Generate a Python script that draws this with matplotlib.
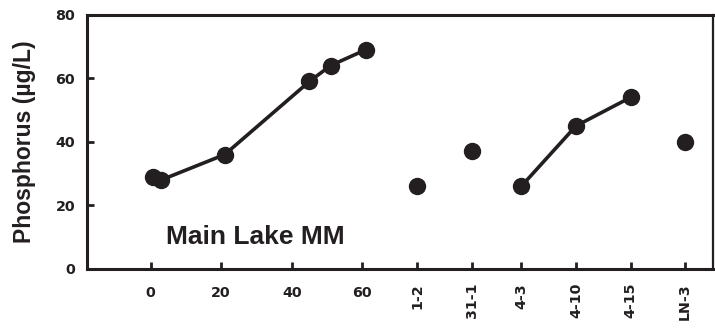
import matplotlib
matplotlib.use("Agg")
import matplotlib.pyplot as plt

plt.rcParams['font.family'] = ['Liberation Sans', 'DejaVu Sans']

# Main lake series (numeric x)
main_x = [0.75, 3, 21, 45, 51, 61]
main_y = [29, 28, 36, 59, 64, 69]
num_ticks = [0, 20, 40, 60]
y_ticks = [0, 20, 40, 60, 80]

# Site categories
site_labels = ['1-2', '31-1', '4-3', '4-10', '4-15', 'LN-3']
site_y = [26, 37, 26, 45, 54, 40]
site_pos = [75.5, 91.0, 105.0, 120.5, 136.0, 151.4]
connected = ['4-3', '4-10', '4-15']

color = '#231f20'
tick_font = 'DejaVu Sans'

fig = plt.figure(figsize=(7.15, 3.28), dpi=100)
ax = fig.add_axes([0.1217, 0.1799, 0.9976 - 0.1217, 0.9552 - 0.1799])

ax.plot(main_x, main_y, color=color, lw=2.6, marker='o', ms=11.5, zorder=3)

idx = [site_labels.index(c) for c in connected]
ax.plot([site_pos[i] for i in idx], [site_y[i] for i in idx], color=color, lw=2.6, zorder=2)
ax.plot(site_pos, site_y, ls='none', marker='o', ms=11.5, color=color, zorder=3)

ax.set_xlim(-18.0, 159.4)
ax.set_ylim(0, 80)
ax.set_yticks(y_ticks)

# numeric ticks as major, site ticks as minor
ax.set_xticks(num_ticks)
ax.set_xticklabels([str(t) for t in num_ticks])
ax.set_xticks(site_pos, minor=True)
ax.set_xticklabels(site_labels, minor=True, rotation=90)

ax.tick_params(axis='both', which='both', direction='in', length=5, width=2,
               color=color, labelsize=10.3, labelcolor=color)
ax.tick_params(axis='y', pad=8.5)
ax.tick_params(axis='x', which='major', pad=12.5)
ax.tick_params(axis='x', which='minor', pad=10)
for lab in (ax.get_xticklabels() + ax.get_xticklabels(minor=True)
            + ax.get_yticklabels()):
    lab.set_fontweight('bold')
    lab.set_family(tick_font)

for s in ['left', 'bottom', 'top']:
    ax.spines[s].set_linewidth(2.2)
    ax.spines[s].set_color(color)
ax.spines['right'].set_linewidth(1.6)
ax.spines['right'].set_color(color)

ax.set_ylabel('Phosphorus (µg/L)', fontsize=16.5, fontweight='bold', color=color)
ax.yaxis.set_label_coords(-0.081, 0.5)

ax.text(29.6, 10.2, 'Main Lake MM', fontsize=19, fontweight='bold', color=color,
        ha='center', va='center')

fig.savefig('out.png', dpi=100)
